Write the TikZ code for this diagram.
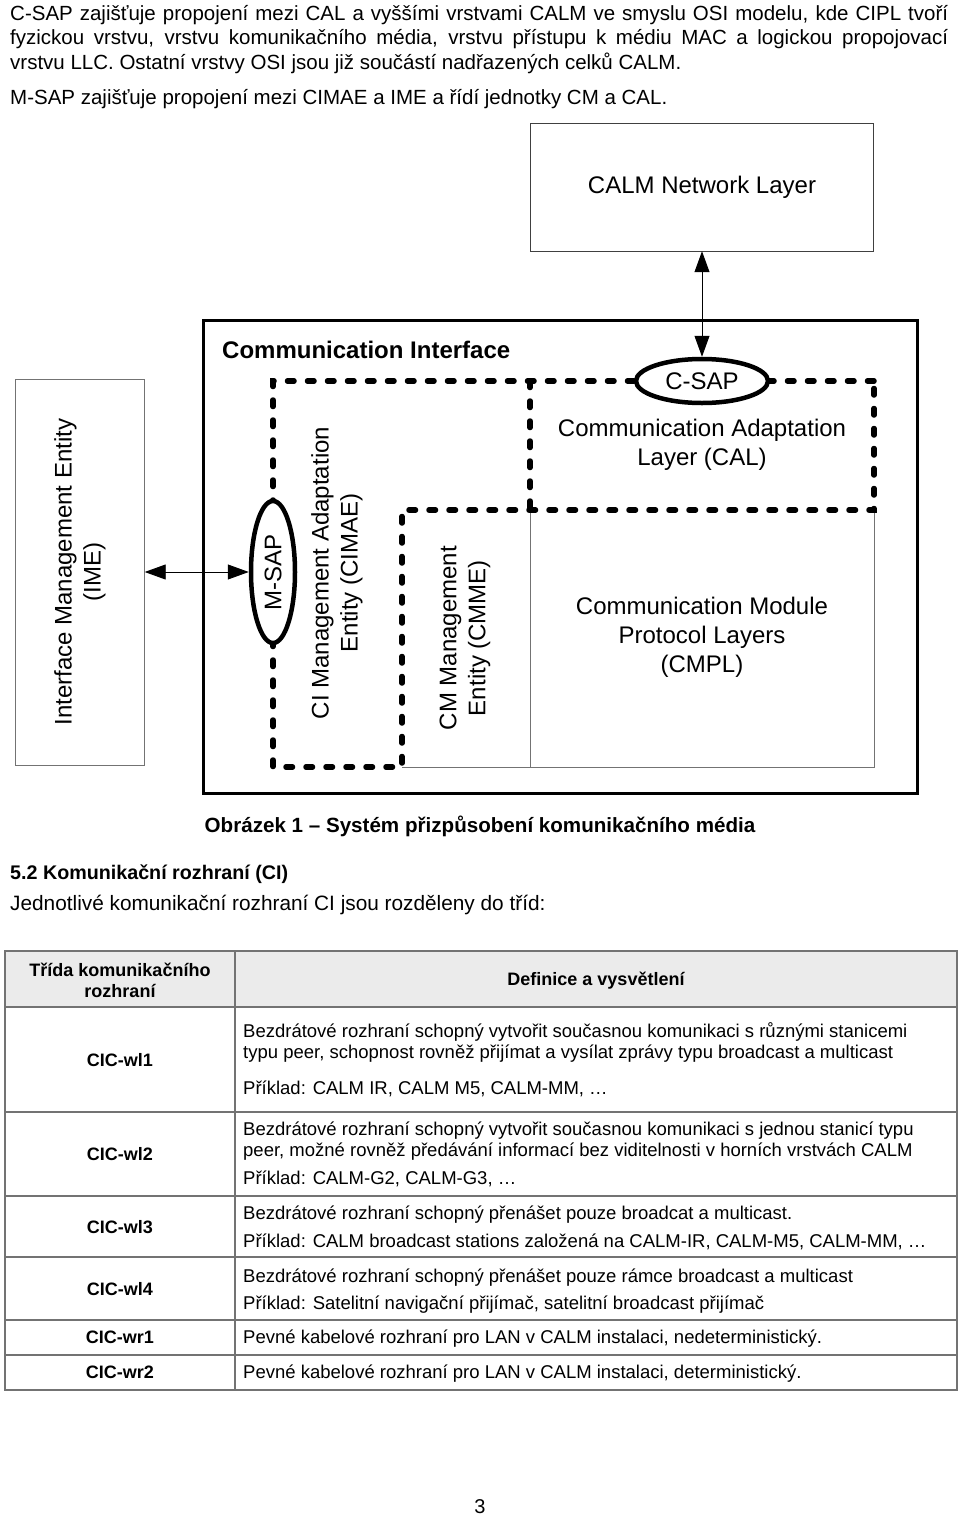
\documentclass[tikz,border=0pt]{standalone}
\usepackage{fontspec}
\setmainfont{Liberation Sans}
\usetikzlibrary{arrows.meta}
\usetikzlibrary{shapes.geometric}

\begin{document}
\begin{tikzpicture}[x=1pt,y=-1pt,
	dashline/.style={line width=5.5pt,dash pattern=on 6.5pt off 13.5pt,line cap=round},
	sap/.style={ellipse,draw,line width=4.5pt,fill=white,inner sep=0pt,font=\fontsize{24}{29}\selectfont},
	lbl/.style={font=\fontsize{24}{29}\selectfont,align=center},
	body/.style={font=\fontsize{20.5}{24.5}\selectfont,inner sep=0pt,anchor=base west},
	cell/.style={font=\fontsize{18.5}{21}\selectfont,inner sep=0pt,anchor=base west},
	boldcell/.style={font=\bfseries\fontsize{18}{21}\selectfont,inner sep=0pt,anchor=base},
	link/.style={{Triangle[length=21pt,width=15pt]}-{Triangle[length=21pt,width=15pt]},line width=0.9pt},
	grid/.style={black!55,line width=1.5pt}]
		\fill[white] (0,0) rectangle (960,1515);
		\useasboundingbox (0,0) rectangle (960,1515);
		% text above the figure
		\node[body] (l1) at (10,20) {\makebox[938pt][s]{C-SAP zajišťuje propojení mezi CAL a vyššími vrstvami CALM ve smyslu OSI modelu, kde CIPL tvoří}};
		\node[body] (l2) at (10,44.5) {\makebox[938pt][s]{fyzickou vrstvu, vrstvu komunikačního média, vrstvu přístupu k médiu MAC a logickou propojovací}};
		\node[body] (l3) at (10,69) {vrstvu LLC. Ostatní vrstvy OSI jsou již součástí nadřazených celků CALM.};
		\node[body] (l4) at (10,104) {M-SAP zajišťuje propojení mezi CIMAE a IME a řídí jednotky CM a CAL.};
		% figure
		\node[draw=black!75,lbl,minimum width=343pt,minimum height=128pt] (calm) at (702,187) {CALM Network Layer};
		\draw[line width=3pt] (203,320) rectangle (917,793);
		\node[font=\bfseries\fontsize{24}{29}\selectfont,anchor=west,inner sep=0pt] (ci) at (222,350) {Communication Interface};
		\draw[black!55,line width=1pt] (402,767) -- (874,767) -- (874,510);
		\draw[black!55,line width=1pt] (530,510) -- (530,767);
		\draw[dashline] (874,381) -- (273,381) -- (273,767) -- (402,767) -- (402,510) -- (874,510) -- cycle;
		\draw[dashline] (530,381) -- (530,510);
		\node[sap,minimum width=132pt,minimum height=44pt] (csap) at (702,381) {C-SAP};
		\node[sap,rotate=90,minimum width=142pt,minimum height=44pt] (msap) at (273,572) {M-SAP};
		\node[draw=black!55,lbl,rotate=90,minimum width=386pt,minimum height=129pt] (ime) at (80,572) {Interface Management Entity\\(IME)};
		\draw[link] (ime.south) -- (msap.north);
		\draw[link] (csap.north) -- (calm.south);
		\node[lbl] (cal) at (702,445) {Communication Adaptation\\Layer (CAL)};
		\node[lbl] (cmpl) at (702,637) {Communication Module\\Protocol Layers\\(CMPL)};
		\node[lbl,rotate=90] (cimae) at (337,573) {CI Management Adaptation\\Entity (CIMAE)};
		\node[lbl,rotate=90] (cmme) at (465,638) {CM Management\\Entity (CMME)};
		% caption and section
		\node[body,anchor=base,font=\bfseries\fontsize{20.6}{24}\selectfont] (cap) at (480,832) {Obrázek 1 – Systém přizpůsobení komunikačního média};
		\node[body,font=\bfseries\fontsize{19.7}{24}\selectfont] (sec) at (10,879) {5.2 Komunikační rozhraní (CI)};
		\node[body,font=\fontsize{20.8}{24}\selectfont] (intro) at (10,910) {Jednotlivé komunikační rozhraní CI jsou rozděleny do tříd:};
		% table
		\fill[black!8] (5,951) rectangle (957,1007);
		\draw[grid] (5,951) rectangle (957,1390);
		\foreach \y in {1007,1112,1196,1257,1320,1355}
			\draw[grid] (5,\y) -- (957,\y);
		\draw[grid] (235,951) -- (235,1390);
		\node[boldcell,anchor=center,align=center] (h1) at (120,980) {Třída komunikačního\\rozhraní};
		\node[boldcell] (h2) at (596,985) {Definice a vysvětlení};
		\node[boldcell] (c1) at (120,1066) {CIC-wl1};
		\node[boldcell] (c2) at (120,1160) {CIC-wl2};
		\node[boldcell] (c3) at (120,1233) {CIC-wl3};
		\node[boldcell] (c4) at (120,1295) {CIC-wl4};
		\node[boldcell] (c5) at (120,1343) {CIC-wr1};
		\node[boldcell] (c6) at (120,1378) {CIC-wr2};
		\node[cell] (d1a) at (243,1037) {Bezdrátové rozhraní schopný vytvořit současnou komunikaci s různými stanicemi};
		\node[cell] (d1b) at (243,1058) {typu peer, schopnost rovněž přijímat a vysílat zprávy typu broadcast a multicast};
		\node[cell] (d1c) at (243,1094) {Příklad: CALM IR, CALM M5, CALM-MM, …};
		\node[cell] (d2a) at (243,1135) {Bezdrátové rozhraní schopný vytvořit současnou komunikaci s jednou stanicí typu};
		\node[cell] (d2b) at (243,1156) {peer, možné rovněž předávání informací bez viditelnosti v horních vrstvách CALM};
		\node[cell] (d2c) at (243,1184) {Příklad: CALM-G2, CALM-G3, …};
		\node[cell] (d3a) at (243,1219) {Bezdrátové rozhraní schopný přenášet pouze broadcat a multicast.};
		\node[cell] (d3b) at (243,1247) {Příklad: CALM broadcast stations založená na CALM-IR, CALM-M5, CALM-MM, …};
		\node[cell] (d4a) at (243,1282) {Bezdrátové rozhraní schopný přenášet pouze rámce broadcast a multicast};
		\node[cell] (d4b) at (243,1309) {Příklad: Satelitní navigační přijímač, satelitní broadcast přijímač};
		\node[cell] (d5) at (243,1343) {Pevné kabelové rozhraní pro LAN v CALM instalaci, nedeterministický.};
		\node[cell] (d6) at (243,1378) {Pevné kabelové rozhraní pro LAN v CALM instalaci, deterministický.};
		% page number
		\node[cell,anchor=base,font=\fontsize{20}{24}\selectfont] (pg) at (480,1513) {3};
\end{tikzpicture}
\end{document}
